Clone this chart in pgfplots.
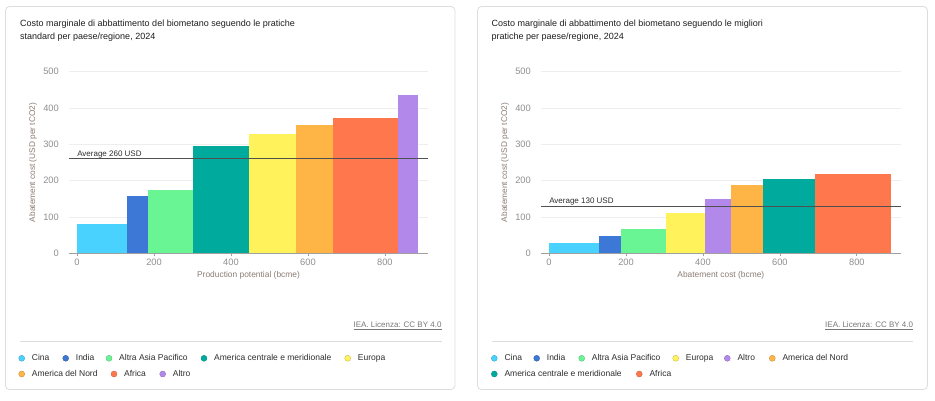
\documentclass[border=0pt]{standalone}
\usepackage{pgfplots}
\pgfplotsset{compat=1.18}
\usepackage{fontspec}
\setmainfont{Liberation Sans}
\definecolor{cina}{HTML}{4AD2FF}
\definecolor{india}{HTML}{3D78D6}
\definecolor{aap}{HTML}{69F594}
\definecolor{acm}{HTML}{00AB9E}
\definecolor{europa}{HTML}{FFF25A}
\definecolor{anord}{HTML}{FFB545}
\definecolor{africa}{HTML}{FF774D}
\definecolor{altro}{HTML}{B388EB}
\definecolor{cardline}{HTML}{DDDDDD}
\definecolor{gridc}{HTML}{EEEEEE}
\definecolor{tickc}{HTML}{8F8F8F}
\definecolor{labc}{HTML}{8C7D74}
\definecolor{titlec}{HTML}{1E1E1E}
\definecolor{legc}{HTML}{2E2E2E}
\definecolor{avgc}{HTML}{505050}
\definecolor{axisc}{HTML}{A0A0A0}
\definecolor{ieac}{HTML}{777777}
\pgfplotsset{
  ieabase/.style={
    scale only axis,
    height=181.6pt,
    ymin=0, ymax=500,
    ytick={0,100,...,500},
    xtick={0,200,...,800},
    axis x line*=bottom,
    axis y line*=left,
    y axis line style={draw=none},
    x axis line style={draw=axisc, line width=0.9pt},
    ytick style={draw=none},
    xtick style={draw=axisc, line width=0.8pt},
    tick align=outside,
    major tick length=3pt,
    ymajorgrids,
    major grid style={draw=gridc, line width=0.8pt},
    /pgf/number format/assume math mode=true,
    ticklabel style={font=\fontsize{9.3}{10}\selectfont, text=tickc},
    yticklabel style={inner sep=0pt, xshift=-7pt},
    xticklabel style={inner sep=0pt, yshift=-3pt},
    every axis y label/.style={at={(axis description cs:-0.1003,0.5)}, anchor=center, rotate=90,
      font=\fontsize{8.3}{10}\selectfont, text=labc},
    every axis x label/.style={at={(axis description cs:0.5,-0.1233)}, anchor=center,
      font=\fontsize{8.4}{10}\selectfont, text=labc},
    clip=false,
  },
  bar/.style={fill=#1, draw=none},
}
\newcommand{\legitem}[3]{%
  \node[circle, fill=#3, draw=#3!75!black, line width=0.3pt, minimum size=6pt, inner sep=0pt] at (#1,#2) {};
  \node[anchor=west, inner sep=0pt, font=\fontsize{8.5}{10}\selectfont, text=legc] at (#1+10,#2) {\vphantom{Ag}\csname leg@#3\endcsname};}
\expandafter\def\csname leg@cina\endcsname{Cina}
\expandafter\def\csname leg@india\endcsname{India}
\expandafter\def\csname leg@aap\endcsname{Altra Asia Pacifico}
\expandafter\def\csname leg@acm\endcsname{America centrale e meridionale}
\expandafter\def\csname leg@europa\endcsname{Europa}
\expandafter\def\csname leg@anord\endcsname{America del Nord}
\expandafter\def\csname leg@africa\endcsname{Africa}
\expandafter\def\csname leg@altro\endcsname{Altro}
\begin{document}
\begin{tikzpicture}[x=1pt,y=1pt]
\fill[white] (0,0) rectangle (935,-401);
\draw[cardline, line width=0.8pt, rounded corners=4pt] (5.5,-6.5) rectangle (455,-389.5);
\draw[cardline, line width=0.8pt, rounded corners=4pt] (477.5,-6.5) rectangle (927.5,-389.5);
% titles
\node[anchor=base west, inner sep=0pt, font=\fontsize{9}{13}\selectfont, text=titlec] at (20,-26.5) {Costo marginale di abbattimento del biometano seguendo le pratiche};
\node[anchor=base west, inner sep=0pt, font=\fontsize{9}{13}\selectfont, text=titlec] at (20,-39.5) {standard per paese/regione, 2024};
\node[anchor=base west, inner sep=0pt, font=\fontsize{9}{13}\selectfont, text=titlec] at (491.5,-26.5) {Costo marginale di abbattimento del biometano seguendo le migliori};
\node[anchor=base west, inner sep=0pt, font=\fontsize{9}{13}\selectfont, text=titlec] at (491.5,-39.5) {pratiche per paese/regione, 2024};

% left axis
\begin{axis}[ieabase, at={(69pt,-253.3pt)}, anchor=south west, width=359pt,
  xmin=-21, xmax=912, xlabel={Production potential (bcme)},
  ylabel={Abatement cost (USD per tCO2)}]
\addplot[bar=cina] coordinates {(0,80.5) (129,80.5)} \closedcycle;
\addplot[bar=india] coordinates {(129,158) (185,158)} \closedcycle;
\addplot[bar=aap] coordinates {(185,174) (302,174)} \closedcycle;
\addplot[bar=acm] coordinates {(302,296) (446,296)} \closedcycle;
\addplot[bar=europa] coordinates {(446,328) (568,328)} \closedcycle;
\addplot[bar=anord] coordinates {(568,353) (666,353)} \closedcycle;
\addplot[bar=africa] coordinates {(666,372) (835,372)} \closedcycle;
\addplot[bar=altro] coordinates {(835,436) (887,436)} \closedcycle;
\addplot[avgc, line width=0.9pt] coordinates {(-21,260) (912,260)};
\addplot[axisc, line width=0.9pt] coordinates {(-21,0) (912,0)};
\node[anchor=base west, inner sep=0pt, font=\fontsize{8}{10}\selectfont, text=legc] at (axis cs:0,265.5) {Average 260 USD};
\end{axis}

% right axis
\begin{axis}[ieabase, at={(541pt,-253.3pt)}, anchor=south west, width=359.7pt,
  xmin=-21, xmax=914, xlabel={Abatement cost (bcme)},
  ylabel={Abatement cost (USD per tCO2)}]
\addplot[bar=cina] coordinates {(0,28) (129,28)} \closedcycle;
\addplot[bar=india] coordinates {(129,48) (186,48)} \closedcycle;
\addplot[bar=aap] coordinates {(186,66) (303,66)} \closedcycle;
\addplot[bar=europa] coordinates {(303,111) (405,111)} \closedcycle;
\addplot[bar=altro] coordinates {(405,150) (472,150)} \closedcycle;
\addplot[bar=anord] coordinates {(472,188) (556,188)} \closedcycle;
\addplot[bar=acm] coordinates {(556,204) (692,204)} \closedcycle;
\addplot[bar=africa] coordinates {(692,217) (888,217)} \closedcycle;
\addplot[avgc, line width=0.9pt] coordinates {(-21,130) (914,130)};
\addplot[axisc, line width=0.9pt] coordinates {(-21,0) (914,0)};
\node[anchor=base west, inner sep=0pt, font=\fontsize{8}{10}\selectfont, text=legc] at (axis cs:0,137) {Average 130 USD};
\end{axis}

% footer: source, separator, legends
\node[anchor=base east, inner sep=0pt, font=\fontsize{8}{10}\selectfont, text=ieac] at (441.7,-327.5) {\underline{IEA. Licenza: CC BY 4.0}};
\node[anchor=base east, inner sep=0pt, font=\fontsize{8}{10}\selectfont, text=ieac] at (913.3,-327.5) {\underline{IEA. Licenza: CC BY 4.0}};
\draw[cardline, line width=0.8pt] (20,-341.7) -- (441.7,-341.7);
\draw[cardline, line width=0.8pt] (491.7,-341.7) -- (913.3,-341.7);

\legitem{21.7}{-358.3}{cina}
\legitem{65.7}{-358.3}{india}
\legitem{109}{-358.3}{aap}
\legitem{204}{-358.3}{acm}
\legitem{347.7}{-358.3}{europa}
\legitem{21.7}{-374}{anord}
\legitem{114}{-374}{africa}
\legitem{162.7}{-374}{altro}

\legitem{494.3}{-358.3}{cina}
\legitem{536.7}{-358.3}{india}
\legitem{581.7}{-358.3}{aap}
\legitem{675.7}{-358.3}{europa}
\legitem{727.3}{-358.3}{altro}
\legitem{772.3}{-358.3}{anord}
\legitem{494.3}{-374}{acm}
\legitem{639.3}{-374}{africa}
\end{tikzpicture}
\end{document}
